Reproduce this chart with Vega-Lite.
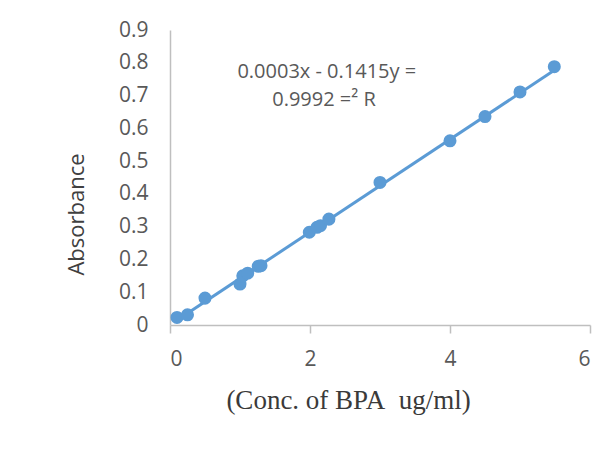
{
  "$schema": "https://vega.github.io/schema/vega-lite/v6.json",
  "autosize": {"type": "none"},
  "width": 420,
  "height": 295,
  "padding": {"left": 170, "top": 30, "right": 12, "bottom": 126},
  "background": "white",
  "config": {
    "view": {"stroke": null},
    "axis": {"grid": false, "labelFont": "Open Sans", "labelColor": "#595959", "labelFontSize": 21, "labelOverlap": false, "domainColor": "#bfbfbf", "tickColor": "#bfbfbf", "domainWidth": 1.5, "tickWidth": 1.5}
  },
  "datasets": {
    "pts": [
      {"x": 0.1, "y": 0.023},
      {"x": 0.25, "y": 0.031},
      {"x": 0.5, "y": 0.082},
      {"x": 1.0, "y": 0.125},
      {"x": 1.04, "y": 0.15},
      {"x": 1.11, "y": 0.158},
      {"x": 1.26, "y": 0.179},
      {"x": 1.3, "y": 0.181},
      {"x": 1.99, "y": 0.283},
      {"x": 2.1, "y": 0.298},
      {"x": 2.15, "y": 0.303},
      {"x": 2.27, "y": 0.323},
      {"x": 3.0, "y": 0.435},
      {"x": 4.0, "y": 0.562},
      {"x": 4.5, "y": 0.636},
      {"x": 5.0, "y": 0.711},
      {"x": 5.49, "y": 0.788}
    ],
    "fit": [
      {"x": 0.1, "y": 0.01445},
      {"x": 5.5, "y": 0.77855}
    ],
    "label": [
      {"x": 2.24, "y": 0.772, "t": "0.0003x - 0.1415y ="},
      {"x": 2.2, "y": 0.686, "t": "0.9992 =² R"}
    ]
  },
  "encoding": {
    "x": {"field": "x", "type": "quantitative", "scale": {"domain": [0, 6]},
      "axis": {"values": [0, 2, 4, 6], "format": "d", "title": "(Conc. of BPA\u00a0\u00a0ug/ml)", "titleFont": "Liberation Serif", "titleFontSize": 27, "titleFontWeight": "normal", "titleColor": "#3a3a3a", "titlePadding": 18, "titleX": 178, "tickSize": 8, "labelPadding": 15}},
    "y": {"field": "y", "type": "quantitative", "scale": {"domain": [0, 0.9]},
      "axis": {"tickCount": 10, "values": [0, 0.1, 0.2, 0.3, 0.4, 0.5, 0.6, 0.7, 0.8, 0.9], "labelExpr": "format(datum.value, '.1~f')", "labelOverlap": false, "ticks": false, "labelPadding": 22, "title": "Absorbance", "titleFont": "Open Sans", "titleFontSize": 22, "titleFontWeight": "normal", "titleColor": "#404040", "titlePadding": 30, "titleY": 184}}
  },
  "layer": [
    {
      "data": {"name": "fit"},
      "mark": {"type": "line", "color": "#5B9BD5", "strokeWidth": 3}
    },
    {
      "data": {"name": "pts"},
      "mark": {"type": "point", "filled": true, "opacity": 1, "color": "#5B9BD5", "size": 170}
    },
    {
      "data": {"name": "label"},
      "mark": {"type": "text", "font": "Open Sans", "fontSize": 20, "color": "#595959", "align": "center", "baseline": "middle"},
      "encoding": {
        "text": {"field": "t"}
      }
    }
  ]
}
